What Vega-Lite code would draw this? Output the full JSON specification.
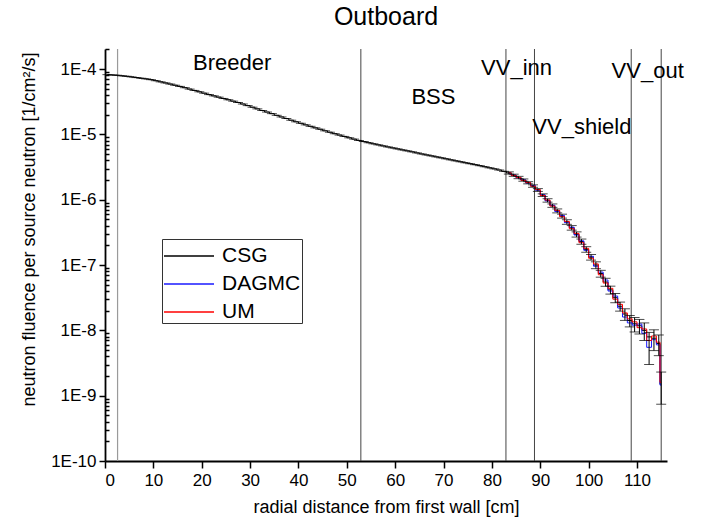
{
  "$schema": "https://vega.github.io/schema/vega-lite/v6.json",
  "width": 562,
  "height": 412,
  "autosize": {"type": "none"},
  "padding": {"left": 105, "top": 49, "right": 34, "bottom": 69},
  "background": "white",
  "config": {
    "view": {"stroke": null},
    "font": "Liberation Sans",
    "axis": {"labelFont": "Liberation Sans", "titleFont": "Liberation Sans", "labelColor": "black", "titleColor": "black", "domainColor": "black", "tickColor": "black", "grid": false}
  },
  "title": {"text": "Outboard", "fontSize": 25, "font": "Liberation Sans", "fontWeight": "normal", "color": "black", "frame": "group", "baseline": "alphabetic", "offset": 17, "dy": 27},
  "datasets": {
    "curve": [
      {"x": 0.5, "CSG": 8.22e-5}, {"x": 1.5, "CSG": 8.13e-5}, {"x": 2.5, "CSG": 8.04e-5}, {"x": 3.5, "CSG": 7.89e-5},
      {"x": 4.5, "CSG": 7.76e-5}, {"x": 5.5, "CSG": 7.59e-5}, {"x": 6.5, "CSG": 7.41e-5}, {"x": 7.5, "CSG": 7.24e-5},
      {"x": 8.5, "CSG": 7.08e-5}, {"x": 9.5, "CSG": 6.89e-5}, {"x": 10.5, "CSG": 6.64e-5}, {"x": 11.5, "CSG": 6.38e-5},
      {"x": 12.5, "CSG": 6.14e-5}, {"x": 13.5, "CSG": 5.90e-5}, {"x": 14.5, "CSG": 5.66e-5}, {"x": 15.5, "CSG": 5.43e-5},
      {"x": 16.5, "CSG": 5.19e-5}, {"x": 17.5, "CSG": 4.94e-5}, {"x": 18.5, "CSG": 4.71e-5}, {"x": 19.5, "CSG": 4.49e-5},
      {"x": 20.5, "CSG": 4.28e-5}, {"x": 21.5, "CSG": 4.07e-5}, {"x": 22.5, "CSG": 3.89e-5}, {"x": 23.5, "CSG": 3.72e-5},
      {"x": 24.5, "CSG": 3.55e-5}, {"x": 25.5, "CSG": 3.39e-5}, {"x": 26.5, "CSG": 3.23e-5}, {"x": 27.5, "CSG": 3.08e-5},
      {"x": 28.5, "CSG": 2.92e-5}, {"x": 29.5, "CSG": 2.76e-5}, {"x": 30.5, "CSG": 2.61e-5}, {"x": 31.5, "CSG": 2.46e-5},
      {"x": 32.5, "CSG": 2.32e-5}, {"x": 33.5, "CSG": 2.20e-5}, {"x": 34.5, "CSG": 2.08e-5}, {"x": 35.5, "CSG": 1.96e-5},
      {"x": 36.5, "CSG": 1.85e-5}, {"x": 37.5, "CSG": 1.75e-5}, {"x": 38.5, "CSG": 1.65e-5}, {"x": 39.5, "CSG": 1.56e-5},
      {"x": 40.5, "CSG": 1.48e-5}, {"x": 41.5, "CSG": 1.40e-5}, {"x": 42.5, "CSG": 1.33e-5}, {"x": 43.5, "CSG": 1.26e-5},
      {"x": 44.5, "CSG": 1.20e-5}, {"x": 45.5, "CSG": 1.135e-5}, {"x": 46.5, "CSG": 1.08e-5}, {"x": 47.5, "CSG": 1.025e-5},
      {"x": 48.5, "CSG": 9.77e-6}, {"x": 49.5, "CSG": 9.31e-6}, {"x": 50.5, "CSG": 8.87e-6}, {"x": 51.5, "CSG": 8.47e-6},
      {"x": 52.5, "CSG": 8.09e-6}, {"x": 53.5, "CSG": 7.76e-6}, {"x": 54.5, "CSG": 7.46e-6}, {"x": 55.5, "CSG": 7.18e-6},
      {"x": 56.5, "CSG": 6.92e-6}, {"x": 57.5, "CSG": 6.67e-6}, {"x": 58.5, "CSG": 6.43e-6}, {"x": 59.5, "CSG": 6.21e-6},
      {"x": 60.5, "CSG": 6.00e-6}, {"x": 61.5, "CSG": 5.79e-6}, {"x": 62.5, "CSG": 5.60e-6}, {"x": 63.5, "CSG": 5.41e-6},
      {"x": 64.5, "CSG": 5.21e-6}, {"x": 65.5, "CSG": 5.02e-6}, {"x": 66.5, "CSG": 4.85e-6}, {"x": 67.5, "CSG": 4.69e-6},
      {"x": 68.5, "CSG": 4.53e-6}, {"x": 69.5, "CSG": 4.38e-6}, {"x": 70.5, "CSG": 4.23e-6}, {"x": 71.5, "CSG": 4.08e-6},
      {"x": 72.5, "CSG": 3.94e-6}, {"x": 73.5, "CSG": 3.81e-6}, {"x": 74.5, "CSG": 3.68e-6}, {"x": 75.5, "CSG": 3.56e-6},
      {"x": 76.5, "CSG": 3.44e-6}, {"x": 77.5, "CSG": 3.32e-6}, {"x": 78.5, "CSG": 3.20e-6}, {"x": 79.5, "CSG": 3.08e-6},
      {"x": 80.5, "CSG": 2.97e-6}, {"x": 81.5, "CSG": 2.85e-6}, {"x": 82.5, "CSG": 2.72e-6},
      {"x": 83.5, "CSG": 2.57e-6, "DAGMC": 2.55e-6, "UM": 2.58e-6},
      {"x": 84.5, "CSG": 2.37e-6, "DAGMC": 2.38e-6, "UM": 2.36e-6},
      {"x": 85.5, "CSG": 2.19e-6, "DAGMC": 2.17e-6, "UM": 2.20e-6},
      {"x": 86.5, "CSG": 2.00e-6, "DAGMC": 2.01e-6, "UM": 1.98e-6},
      {"x": 87.5, "CSG": 1.82e-6, "DAGMC": 1.80e-6, "UM": 1.83e-6},
      {"x": 88.5, "CSG": 1.62e-6, "DAGMC": 1.64e-6, "UM": 1.61e-6},
      {"x": 89.5, "CSG": 1.41e-6, "DAGMC": 1.40e-6, "UM": 1.43e-6},
      {"x": 90.5, "CSG": 1.175e-6, "DAGMC": 1.19e-6, "UM": 1.16e-6},
      {"x": 91.5, "CSG": 9.77e-7, "DAGMC": 9.6e-7, "UM": 9.9e-7},
      {"x": 92.5, "CSG": 8.13e-7, "DAGMC": 8.25e-7, "UM": 8.0e-7},
      {"x": 93.5, "CSG": 6.76e-7, "DAGMC": 6.6e-7, "UM": 6.9e-7},
      {"x": 94.5, "CSG": 5.62e-7, "DAGMC": 5.75e-7, "UM": 5.5e-7},
      {"x": 95.5, "CSG": 4.57e-7, "DAGMC": 4.45e-7, "UM": 4.65e-7},
      {"x": 96.5, "CSG": 3.72e-7, "DAGMC": 3.8e-7, "UM": 3.6e-7},
      {"x": 97.5, "CSG": 2.95e-7, "DAGMC": 2.88e-7, "UM": 3.05e-7},
      {"x": 98.5, "CSG": 2.29e-7, "DAGMC": 2.35e-7, "UM": 2.2e-7},
      {"x": 99.5, "CSG": 1.74e-7, "DAGMC": 1.68e-7, "UM": 1.8e-7},
      {"x": 100.5, "CSG": 1.32e-7, "DAGMC": 1.36e-7, "UM": 1.27e-7},
      {"x": 101.5, "CSG": 1.0e-7, "DAGMC": 9.6e-8, "UM": 1.04e-7},
      {"x": 102.5, "CSG": 7.41e-8, "DAGMC": 7.8e-8, "UM": 7.1e-8},
      {"x": 103.5, "CSG": 5.5e-8, "DAGMC": 5.9e-8, "UM": 5.3e-8},
      {"x": 104.5, "CSG": 4.17e-8, "DAGMC": 4.0e-8, "UM": 4.4e-8},
      {"x": 105.5, "CSG": 3.16e-8, "DAGMC": 3.35e-8, "UM": 3.0e-8},
      {"x": 106.5, "CSG": 2.34e-8, "DAGMC": 2.2e-8, "UM": 2.5e-8},
      {"x": 107.5, "CSG": 1.78e-8, "DAGMC": 1.6e-8, "UM": 1.85e-8},
      {"x": 108.5, "CSG": 1.41e-8, "DAGMC": 1.3e-8, "UM": 1.5e-8},
      {"x": 109.5, "CSG": 1.26e-8, "DAGMC": 1.2e-8, "UM": 1.35e-8},
      {"x": 110.5, "CSG": 1.175e-8, "DAGMC": 1.25e-8, "UM": 1.1e-8},
      {"x": 111.5, "CSG": 1.0e-8, "DAGMC": 9.0e-9, "UM": 1.05e-8},
      {"x": 112.5, "CSG": 7.94e-9, "DAGMC": 5.5e-9, "UM": 7.0e-9},
      {"x": 113.5, "CSG": 7.59e-9, "DAGMC": 7.2e-9, "UM": 8.2e-9},
      {"x": 114.5, "CSG": 6.31e-9, "DAGMC": 6.0e-9, "UM": 6.6e-9},
      {"x": 115.0, "CSG": 1.5e-9, "DAGMC": 1.45e-9, "UM": 1.6e-9}
    ],
    "err": [
      {"x": 83.5, "lo": 2.47e-6, "hi": 2.67e-6}, {"x": 84.5, "lo": 2.28e-6, "hi": 2.46e-6},
      {"x": 85.5, "lo": 2.10e-6, "hi": 2.28e-6}, {"x": 86.5, "lo": 1.92e-6, "hi": 2.08e-6},
      {"x": 87.5, "lo": 1.75e-6, "hi": 1.89e-6}, {"x": 88.5, "lo": 1.55e-6, "hi": 1.69e-6},
      {"x": 89.5, "lo": 1.34e-6, "hi": 1.48e-6}, {"x": 90.5, "lo": 1.12e-6, "hi": 1.23e-6},
      {"x": 91.5, "lo": 9.18e-7, "hi": 1.036e-6}, {"x": 92.5, "lo": 7.64e-7, "hi": 8.62e-7},
      {"x": 93.5, "lo": 6.29e-7, "hi": 7.23e-7}, {"x": 94.5, "lo": 5.23e-7, "hi": 6.01e-7},
      {"x": 95.5, "lo": 4.2e-7, "hi": 4.94e-7}, {"x": 96.5, "lo": 3.42e-7, "hi": 4.02e-7},
      {"x": 97.5, "lo": 2.68e-7, "hi": 3.22e-7}, {"x": 98.5, "lo": 2.08e-7, "hi": 2.5e-7},
      {"x": 99.5, "lo": 1.57e-7, "hi": 1.91e-7}, {"x": 100.5, "lo": 1.19e-7, "hi": 1.45e-7},
      {"x": 101.5, "lo": 8.8e-8, "hi": 1.12e-7}, {"x": 102.5, "lo": 6.52e-8, "hi": 8.3e-8},
      {"x": 103.5, "lo": 4.73e-8, "hi": 6.27e-8}, {"x": 104.5, "lo": 3.59e-8, "hi": 4.75e-8},
      {"x": 105.5, "lo": 2.65e-8, "hi": 3.67e-8}, {"x": 106.5, "lo": 1.97e-8, "hi": 2.71e-8},
      {"x": 107.5, "lo": 1.42e-8, "hi": 2.14e-8}, {"x": 108.5, "lo": 1.13e-8, "hi": 1.69e-8},
      {"x": 109.5, "lo": 9.45e-9, "hi": 1.575e-8}, {"x": 110.5, "lo": 8.8e-9, "hi": 1.47e-8},
      {"x": 111.5, "lo": 7.0e-9, "hi": 1.3e-8}, {"x": 112.5, "lo": 3.0e-9, "hi": 9.3e-9},
      {"x": 113.5, "lo": 4.9e-9, "hi": 1.02e-8}, {"x": 114.5, "lo": 4.1e-9, "hi": 8.5e-9},
      {"x": 115.0, "lo": 7.4e-10, "hi": 2.3e-9}
    ],
    "walls": [
      {"x": 2.6, "kind": "first wall"}, {"x": 52.9, "kind": "boundary"}, {"x": 82.9, "kind": "boundary"},
      {"x": 88.8, "kind": "boundary"}, {"x": 108.8, "kind": "boundary"}, {"x": 115.0, "kind": "boundary"}
    ],
    "labels": [
      {"x": 26.3, "y": 1.25e-4, "t": "Breeder"},
      {"x": 67.9, "y": 3.76e-5, "t": "BSS"},
      {"x": 85.1, "y": 1.05e-4, "t": "VV_inn"},
      {"x": 98.6, "y": 1.28e-5, "t": "VV_shield"},
      {"x": 112.2, "y": 9.2e-5, "t": "VV_out"}
    ]
  },
  "layer": [
    {
      "data": {"name": "walls"},
      "transform": [{"filter": "datum.kind == 'first wall'"}],
      "mark": {"type": "rule", "color": "#9a9a9a", "strokeWidth": 1.2},
      "encoding": {"x": {"field": "x", "type": "quantitative", "scale": {"domain": [0, 116.2], "nice": false, "zero": false}}}
    },
    {
      "data": {"name": "walls"},
      "transform": [{"filter": "datum.kind == 'boundary'"}],
      "mark": {"type": "rule", "color": "#444444", "strokeWidth": 1},
      "encoding": {"x": {"field": "x", "type": "quantitative"}}
    },
    {
      "data": {"name": "curve"},
      "transform": [{"fold": ["CSG", "DAGMC", "UM"], "as": ["series", "value"]}],
      "mark": {"type": "line", "interpolate": "step", "strokeWidth": 1},
      "encoding": {
        "x": {
          "field": "x", "type": "quantitative",
          "scale": {"domain": [0, 116.2], "nice": false, "zero": false},
          "axis": {
            "title": "radial distance from first wall [cm]",
            "titleFontSize": 18, "titleFontWeight": "normal", "titlePadding": 10,
            "labelFontSize": 17, "labelPadding": 4,
            "values": [0, 5, 10, 15, 20, 25, 30, 35, 40, 45, 50, 55, 60, 65, 70, 75, 80, 85, 90, 95, 100, 105, 110, 115],
            "labelExpr": "datum.value % 10 == 0 ? datum.value : ''",
            "labelOverlap": false,
            "tickSize": {"condition": {"test": "datum.value % 10 == 0", "value": 7}, "value": 4},
            "tickWidth": 1.5, "domainWidth": 1.8
          }
        },
        "y": {
          "field": "value", "type": "quantitative",
          "scale": {"type": "log", "domain": [1e-10, 2.03e-4], "nice": false},
          "axis": {
            "title": "neutron fluence per source neutron [1/cm²/s]",
            "titleFontSize": 18, "titleFontWeight": "normal",
            "titleX": -76, "titleY": 180, "titleAnchor": "middle", "titleAlign": "center", "titleAngle": -90, "titleBaseline": "middle",
            "labelFontSize": 17, "labelPadding": 3,
            "values": [1e-10, 2e-10, 3e-10, 4e-10, 5e-10, 6e-10, 7e-10, 8e-10, 9e-10,
                       1e-9, 2e-9, 3e-9, 4e-9, 5e-9, 6e-9, 7e-9, 8e-9, 9e-9,
                       1e-8, 2e-8, 3e-8, 4e-8, 5e-8, 6e-8, 7e-8, 8e-8, 9e-8,
                       1e-7, 2e-7, 3e-7, 4e-7, 5e-7, 6e-7, 7e-7, 8e-7, 9e-7,
                       1e-6, 2e-6, 3e-6, 4e-6, 5e-6, 6e-6, 7e-6, 8e-6, 9e-6,
                       1e-5, 2e-5, 3e-5, 4e-5, 5e-5, 6e-5, 7e-5, 8e-5, 9e-5,
                       1e-4, 2e-4],
            "labelExpr": "abs(log(datum.value)/LN10 - round(log(datum.value)/LN10)) < 0.001 ? '1E' + round(log(datum.value)/LN10) : ''",
            "labelOverlap": false,
            "tickSize": {"condition": {"test": "abs(log(datum.value)/LN10 - round(log(datum.value)/LN10)) < 0.001", "value": 6}, "value": -4},
            "tickWidth": 1.5, "domainWidth": 1.8
          }
        },
        "color": {
          "field": "series", "type": "nominal",
          "scale": {"domain": ["CSG", "DAGMC", "UM"], "range": ["#000000", "#1a1aff", "#ff0000"]},
          "legend": {
            "orient": "none", "legendX": 57, "legendY": 190, "title": null,
            "symbolType": "M-1.667,0H1.667", "symbolSize": 900, "symbolStrokeWidth": 1.5, "symbolOpacity": 1, "symbolOffset": 10,
            "labelFontSize": 21, "labelFont": "Liberation Sans", "labelColor": "black",
            "strokeColor": "#333333", "fillColor": "white", "padding": 1, "rowPadding": 2, "labelOffset": 17
          }
        }
      }
    },
    {
      "data": {"name": "curve"},
      "transform": [{"filter": "datum.x < 83"}],
      "mark": {"type": "tick", "orient": "horizontal", "color": "black", "size": 10, "thickness": 1},
      "encoding": {
        "x": {"field": "x", "type": "quantitative"},
        "y": {"field": "CSG", "type": "quantitative"}
      }
    },
    {
      "data": {"name": "err"},
      "mark": {"type": "rule", "color": "black", "strokeWidth": 1},
      "encoding": {
        "x": {"field": "x", "type": "quantitative"},
        "y": {"field": "lo", "type": "quantitative"},
        "y2": {"field": "hi"}
      }
    },
    {
      "data": {"name": "err"},
      "mark": {"type": "tick", "orient": "horizontal", "color": "black", "size": 10, "thickness": 1},
      "encoding": {
        "x": {"field": "x", "type": "quantitative"},
        "y": {"field": "lo", "type": "quantitative"}
      }
    },
    {
      "data": {"name": "err"},
      "mark": {"type": "tick", "orient": "horizontal", "color": "black", "size": 10, "thickness": 1},
      "encoding": {
        "x": {"field": "x", "type": "quantitative"},
        "y": {"field": "hi", "type": "quantitative"}
      }
    },
    {
      "data": {"name": "labels"},
      "mark": {"type": "text", "font": "Liberation Sans", "fontSize": 22, "color": "black", "align": "center", "baseline": "middle"},
      "encoding": {
        "x": {"field": "x", "type": "quantitative"},
        "y": {"field": "y", "type": "quantitative"},
        "text": {"field": "t"}
      }
    }
  ]
}
